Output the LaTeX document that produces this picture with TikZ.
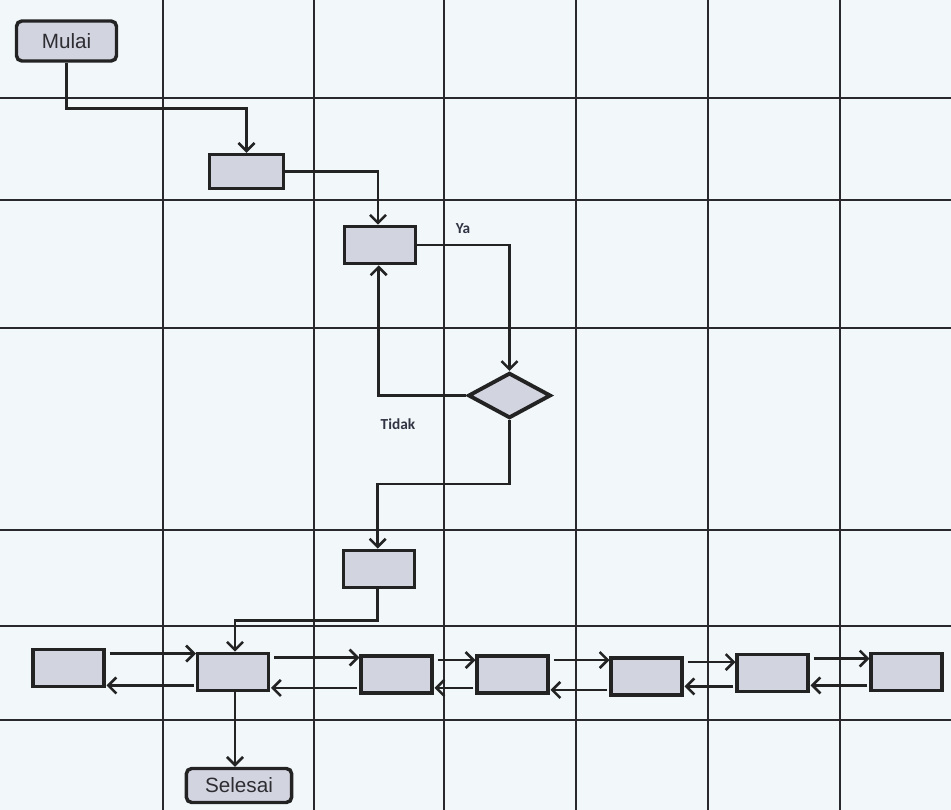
\documentclass[tikz,border=0pt]{standalone}
\usepackage{fontspec}
\setmainfont{Liberation Sans}
\newfontfamily\lblfont{Carlito}
\usetikzlibrary{arrows.meta,shapes.geometric,calc,shadows}
\definecolor{bgc}{RGB}{242,248,250}
\definecolor{boxfill}{RGB}{210,212,224}
\definecolor{edgec}{RGB}{35,35,35}
\definecolor{gridc}{RGB}{40,40,45}
\definecolor{txtc}{RGB}{45,45,50}
\definecolor{lblc}{RGB}{50,52,68}
\tikzset{
  gridline/.style={draw=gridc,line width=1.7pt},
  procbox/.style={draw=edgec,fill=boxfill,line width=2.6pt,minimum width=53pt,minimum height=28pt,inner sep=0pt,
    drop shadow={shadow xshift=0.8pt,shadow yshift=-0.8pt,opacity=0.25}},
  termbox/.style={procbox,rounded corners=4pt,font=\fontsize{15.5}{17}\selectfont,text=txtc},
  decbox/.style={diamond,draw=edgec,fill=boxfill,line width=2.9pt,minimum width=62pt,minimum height=34pt,inner sep=0pt,
    drop shadow={shadow xshift=0.8pt,shadow yshift=-0.8pt,opacity=0.25}},
  arr/.style={draw=edgec,line width=1.9pt,-{Straight Barb[length=6pt,width=12pt,line width=1.9pt]}},
  lbl/.style={font=\lblfont\bfseries\fontsize{11.5}{13}\selectfont,text=lblc}
}
\begin{document}
\begin{tikzpicture}[x=0.75pt,y=-0.75pt]
\fill[bgc] (0,0) rectangle (951,810);
\useasboundingbox (0,0) rectangle (951,810);
% grid
\foreach \gx in {163,314,444,576,708,840}
  \draw[gridline] (\gx,0) -- (\gx,810);
\foreach \gy in {98,200,328,530,626,720}
  \draw[gridline] (0,\gy) -- (951,\gy);
% nodes
\node[termbox,minimum width=75pt,minimum height=30pt] (mulai) at (66.5,41) {Mulai};
\node[procbox,minimum width=55.5pt,minimum height=25.5pt] (b2) at (246.5,171.5) {};
\node[procbox] (b3) at (380,245) {};
\node[decbox] (dia) at (509.5,395.5) {};
\node[procbox] (b4) at (379,569) {};
\node[procbox] (A) at (68.5,668) {};
\node[procbox] (B) at (233,672) {};
\node[procbox] (C) at (396.5,674.5) {};
\node[procbox] (D) at (512.5,674.5) {};
\node[procbox] (E) at (646.5,676.5) {};
\node[procbox] (F) at (772.5,673) {};
\node[procbox] (G) at (906.5,672) {};
\node[termbox,minimum width=79pt,minimum height=25.5pt] (sel) at (239,785.5) {Selesai};
% labels
\node[lbl] (ya) at (463,229) {Ya};
\node[lbl] (tidak) at (398,424) {Tidak};
% connectors
\draw[arr] (mulai.south) -- ++(0,46) -| (b2.north);
\draw[arr] (b2.east) -| ([xshift=-1.5pt]b3.north);
\draw[arr] (b3.east) -| (dia.north);
\draw[arr] (dia.west) -| ([xshift=-1pt]b3.south);
\draw[arr] (dia.south) -- ++(0,64) -| ([xshift=-1pt]b4.north);
\draw[arr] ([xshift=-1pt]b4.south) -- ++(0,31) -| ([xshift=1.5pt]B.north);
\draw[arr] ([xshift=1.5pt]B.south) -- ([xshift=1.5pt]B.south |- sel.north);
\foreach \p/\q in {A/B,B/C,C/D,D/E,E/F,F/G}{
  \path ($(\p.north east)+(4,6)$) coordinate (t\p);
  \draw[arr] (t\p) -- (t\p -| \q.west);
  \path ($(\q.south west)+(-2,-7)$) coordinate (u\p);
  \draw[arr] (u\p) -- ($(u\p -| \p.east)+(1,0)$);
}
\end{tikzpicture}
\end{document}
